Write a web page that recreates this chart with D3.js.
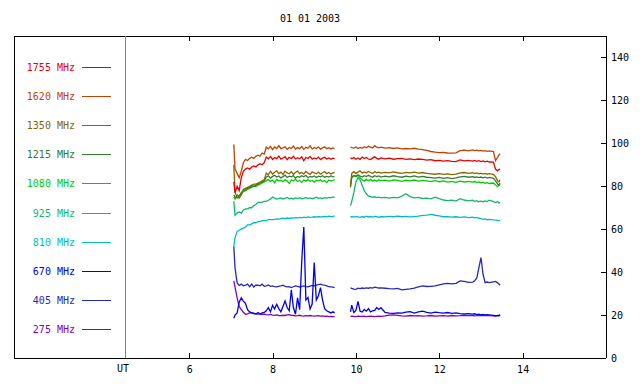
<!DOCTYPE html>
<html>
<head>
<meta charset="utf-8">
<script src="https://cdn.jsdelivr.net/npm/d3@7"></script>
<style>
    body { margin: 0; background: #fff; }
    svg text { font-family: "DejaVu Sans Mono", monospace; font-size: 10px; }
</style>
</head>
<body>
<div id="graph"></div>
<script>
document.addEventListener('DOMContentLoaded', init);

let title = "01 01 2003";

let freqLabels = ["1755 MHz", "1620 MHz", "1350 MHz", "1215 MHz", "1080 MHz",
    "925 MHz", "810 MHz", "670 MHz", "405 MHz", "275 MHz"];

let freqColors = ["#e80000", "#c04400", "#8a6400", "#2f7d2f", "#00cc00",
    "#10b868", "#00bebe", "#0000f0", "#2828b8", "#8200c0"];

let hourTicks = [6, 8, 10, 12, 14];
let valueTicks = [0, 20, 40, 60, 80, 100, 120, 140];

// observation times (UT hours); 9.68 is the data gap
let hours = [7.07, 7.1, 7.15, 7.2, 7.25, 7.3, 7.35, 7.4, 7.45, 7.5, 7.55, 7.6, 7.65, 7.7, 7.75, 7.8,
    7.85, 7.9, 7.95, 8.0, 8.05, 8.1, 8.15, 8.2, 8.25, 8.3, 8.35, 8.4, 8.45, 8.5, 8.55, 8.6, 8.65,
    8.7, 8.75, 8.8, 8.85, 8.9, 8.95, 9.0, 9.05, 9.1, 9.15, 9.2, 9.25, 9.3, 9.35, 9.4, 9.45, 9.49,
    9.68,
    9.87, 9.9, 9.95, 10.0, 10.05, 10.1, 10.15, 10.2, 10.25, 10.3, 10.35, 10.4, 10.45, 10.5, 10.55,
    10.6, 10.7, 10.8, 10.9, 11.0, 11.1, 11.2, 11.3, 11.4, 11.5, 11.6, 11.7, 11.8, 11.9, 12.0, 12.1,
    12.2, 12.3, 12.4, 12.5, 12.6, 12.7, 12.8, 12.85, 12.9, 12.95, 13.0, 13.05, 13.1, 13.15, 13.2,
    13.3, 13.35, 13.4, 13.43, 13.46];

let f1755 = [82, 77, 80, 78, 84, 87, 88, 88.5, 88, 89, 89.5, 89, 90, 90.5, 90, 91,
    93.6, 92.8, 93.9, 92.5, 93.4, 92.9, 94.1, 92.6, 93.2, 93.8, 92.4, 93.5, 92.9, 94, 92.7, 93.3, 92.8,
    93.7, 91.9, 93.4, 92.9, 93.9, 92.6, 93.2, 92.8, 93.6, 92.4, 93.1, 93.5, 92.7, 93.2, 92.6, 93.1, 92.9,
    null,
    93.3, 92.8, 93.4, 92.6, 93.2, 92.5, 93.6, 92.9, 93.4, 92.7, 92.4, 93.1, 93.7, 93, 92.6, 93.2,
    92.8, 93.1, 92.6, 92.9, 93, 92.5, 92.8, 92.4, 92.7, 92.5, 92.2, 92.4, 91.9, 92.1, 91.7, 91.9,
    91.6, 91.5, 92.3, 91.8, 92.1, 91.7, 92, 91.6, 91.9, 91.5, 91.8, 91.4, 91.7, 91.3, 91.2, 88, 87.2, 87.8, 88];

let f1620 = [99.5, 88, 86, 84, 87, 91, 92.5, 92, 93, 93.5, 93, 94, 94.5, 94, 95.5, 95,
    98.2, 97.4, 98.6, 97.1, 98.3, 97.6, 98.9, 97.5, 97.9, 98.4, 97.2, 98.1, 97.6, 98.7, 97.3, 98, 97.5,
    98.5, 97.2, 98.2, 97.7, 98.8, 97.4, 98.1, 97.6, 98.3, 97.3, 97.9, 98.4, 97.5, 98, 97.4, 97.9, 97.6,
    null,
    98.3, 98, 97.8, 98.3, 97.6, 98.1, 97.7, 98.4, 97.9, 98.6, 98.2, 97.8, 98.9, 98.2, 97.9, 98.2,
    97.8, 98, 97.6, 97.9, 97.4, 97.6, 97.4, 97.7, 97.3, 97.1, 96.7, 96.2, 95.9, 95.7, 95.8, 95.5,
    95.4, 95.6, 96.6, 96.8, 96.5, 96.9, 96.6, 96.8, 96.5, 96.7, 96.4, 96.6, 96.3, 96.5, 96.2, 92, 93.5, 94.5, 95.2];

let f1350 = [90, 77, 75, 74.5, 76, 78.5, 79, 79.5, 80, 80.5, 81, 81, 81.5, 82, 82.5, 83,
    86.1, 85.4, 86.9, 85.7, 86.5, 87.2, 85.9, 86.6, 85.5, 87, 86.2, 85.8, 86.8, 85.6, 86.4, 87.1, 85.9,
    86.5, 85.7, 86.9, 86.1, 85.5, 86.7, 86.2, 85.8, 86.6, 85.6, 86.3, 86.9, 85.9, 86.4, 85.7, 86.2, 86.5,
    null,
    79.5, 86, 86.8, 85.9, 86.6, 87.2, 86.1, 86.7, 86.2, 86.9, 86.4, 86, 86.8, 86.3, 86.6, 86.1,
    86.5, 86.2, 86.7, 86.3, 86, 86.5, 86.2, 86.6, 86.1, 86.4, 86, 85.8, 85.6, 85.9, 85.5, 85.8,
    85.4, 85.7, 86.2, 86.4, 86, 86.3, 85.9, 86.2, 85.8, 86.1, 85.7, 86, 85.6, 85.9, 85.5, 84.5, 82.5, 82, 83];

let f1215 = [76, 75, 74.5, 75.5, 77, 78, 78.5, 79, 79.5, 80, 80, 80.5, 81, 81.5, 82, 82.5,
    84.2, 84.9, 83.8, 84.6, 85.1, 84.3, 84.8, 83.9, 84.5, 85.2, 84.1, 84.7, 84.4, 85, 83.8, 84.6, 84.2,
    84.9, 84.4, 85.1, 84, 84.6, 84.3, 84.8, 84.1, 84.7, 84.4, 84.9, 84.2, 84.6, 84.3, 84.8, 84.5, 84.4,
    null,
    80, 84.2, 85, 84.6, 85.3, 84.8, 84.3, 84.9, 84.5, 85.1, 84.6, 84.2, 84.9, 84.5, 84.8, 84.3,
    84.7, 84.4, 84.9, 84.5, 84.2, 84.7, 84.4, 84.8, 84.3, 84.6, 84.2, 84, 83.8, 84.1, 83.7, 84,
    83.6, 83.9, 84.4, 84.6, 84.2, 84.5, 84.1, 84.4, 84, 84.3, 83.9, 84.2, 83.8, 84.1, 83.7, 82.5, 81, 80.6, 81.5];

let f1080 = [75, 74, 76, 75.5, 76.5, 77.5, 78, 78.5, 79, 79.5, 80, 80, 80.5, 81, 81.5, 82,
    82.6, 83.1, 82.2, 82.9, 81.6, 83.2, 82.5, 82.8, 82.1, 83, 82.4, 81.3, 82.9, 82.6, 83.3, 82.2, 82.7,
    81.8, 82.9, 82.4, 83.1, 82.3, 82.7, 81.9, 82.8, 82.5, 83, 82.2, 82.6, 81.7, 82.9, 82.4, 82.8, 83.1,
    null,
    81, 84, 85, 84.5, 85.2, 83.8, 83, 82.4, 83.1, 82.6, 83.2, 82.5, 82.9, 82.3, 83, 82.6,
    82.9, 82.4, 83, 82.7, 82.3, 82.8, 82.5, 82.9, 82.4, 82.7, 82.5, 82.2, 82.6, 82.1, 82.5, 81.9,
    82.3, 81.8, 82.4, 82, 82.3, 81.9, 82.2, 81.7, 82, 81.6, 81.9, 81.4, 81.7, 81.3, 81.5, 80.6, 79.8, 80.4, 80.8];

let f925 = [73, 66.5, 67.5, 68, 67.5, 69, 69.5, 69.5, 70, 70, 71, 71.5, 72.5, 72.5, 72.5, 73,
    73, 73.5, 74, 75, 74.5, 74, 74.3, 74.6, 74.1, 74.4, 74.8, 74.2, 74.5, 74.1, 74.6, 74.3, 74.7,
    74.2, 74.4, 74.8, 74.3, 74.6, 74.2, 74.5, 74.9, 74.4, 74.6, 74.3, 74.7, 74.5, 74.8, 74.6, 75, 74.8,
    null,
    71, 73, 77, 82, 84, 83, 80.5, 78, 76.5, 75.5, 75.2, 74.8, 75.1, 74.7, 74.9, 74.6,
    74.8, 74.5, 74.8, 74.6, 75.4, 76.5, 75.2, 74.6, 74.8, 74.3, 74.5, 74.1, 74.9, 74.2, 73.6, 73.3,
    73.5, 73.1, 74.2, 73.6, 73.2, 73.5, 73, 73.3, 72.8, 73.1, 72.8, 73.2, 72.9, 73.5, 72.8, 72.4, 72.9, 72.2, 72.5];

let f810 = [52, 56, 59, 59.5, 60, 60.5, 61, 62, 62, 62.5, 63, 63, 63.5, 63.5, 64, 64,
    64, 64.5, 64.5, 64.5, 64.6, 64.8, 64.7, 64.9, 65.1, 64.9, 65.2, 65.0, 65.3, 65.2, 65.4, 65.3, 65.5,
    65.3, 65.6, 65.4, 65.7, 65.5, 65.6, 65.8, 65.6, 65.9, 65.7, 65.8, 66, 65.8, 66.1, 65.9, 66, 66.2,
    null,
    65.5, 65.9, 65.6, 66, 65.7, 65.5, 65.9, 65.6, 66.1, 65.7, 65.9, 65.6, 66, 65.8, 65.5, 65.9,
    65.7, 66, 65.8, 66.1, 65.8, 66, 65.7, 65.9, 66.1, 66.4, 66.6, 66.9, 66.5, 66.2, 65.8, 65.9,
    65.6, 65.8, 65.5, 65.7, 65.4, 65.6, 65.3, 65.5, 65.1, 64.9, 64.6, 64.8, 64.4, 64.6, 64.3, 64.2, 64.1, 64, 64.1];

let f670 = [18.5, 20, 21, 26, 28, 26.5, 25.5, 22.5, 21.5, 21, 20.7, 20.5, 21.2, 20.5, 21, 21.2,
    22, 23.5, 21.5, 24.5, 22.8, 25, 23, 21.5, 24, 26.6, 23.5, 22, 31.7, 23.5, 20.4, 28, 22.5,
    45, 61, 27, 28.2, 22.8, 25.1, 44.5, 27, 29, 32.8, 27, 23, 22, 21.5, 21, 21.5, 21,
    null,
    21.5, 24.6, 21.2, 22.2, 26.4, 21.8, 21.4, 22.6, 21.8, 23, 21.5, 22, 22.2, 23.5, 22.6, 23.4,
    21.2, 20.9, 20.8, 21, 20.9, 21.4, 21.6, 20.9, 21.5, 21.8, 21.3, 20.9, 21.4, 21.1, 20.9, 21.2,
    20.8, 21, 20.7, 20.5, 20.7, 20.4, 20.6, 20.2, 20.4, 20.1, 20.3, 20.0, 20.2, 20.1, 19.9, 19.6, 19.8, 19.6, 20.1];

let f405 = [52, 42, 35, 33.8, 34.4, 33.6, 33.9, 34.4, 33.2, 34.4, 33.1, 33.9, 33.9, 33.6, 34.4, 33.4,
    33.6, 34, 33.4, 33.6, 33.2, 33.1, 33.4, 33.6, 33.9, 33.4, 33.1, 33.2, 32.8, 33.2, 33.6, 33.4, 33.1,
    33.4, 33.6, 33.3, 33.1, 33.5, 33.8, 33.6, 33.9, 34.2, 34.4, 34.1, 34, 33.6, 33.2, 33.1, 33, 32.8,
    null,
    32.7, 32.4, 32.1, 32.0, 32.5, 32.3, 32.6, 32.4, 32.7, 32.5, 32.8, 32.6, 33.0, 32.8, 32.6, 32.7,
    32.5, 32.3, 32.2, 32.4, 31.7, 32.0, 32.2, 32.5, 33.1, 33.6, 33.3, 33.4, 33.6, 34.1, 34.5, 34.8,
    34.5, 34.8, 35.9, 35.7, 35.2, 35.3, 36.0, 37.3, 42, 46.8, 39, 35.1, 35.4, 35.1, 35.5, 35.7, 35.0, 34.5, 33.9];

let f275 = [35.9, 33, 28, 24, 22.5, 21.3, 20.4, 20.6, 21, 21.1, 20.9, 20.6, 20.4, 20.5, 20.3, 20.4,
    20.2, 20.1, 20.3, 20, 19.9, 20.1, 19.8, 19.7, 19.9, 19.8, 20.1, 20.2, 19.9, 19.8, 19.6, 19.7, 19.9,
    19.6, 19.5, 19.7, 19.6, 19.8, 19.6, 19.5, 19.6, 19.7, 19.5, 19.6, 19.4, 19.5, 19.3, 19.4, 19.3, 19.3,
    null,
    19.4, 19.5, 19.4, 19.3, 19.5, 19.4, 19.4, 19.5, 19.3, 19.4, 19.5, 19.4, 19.3, 19.4, 19.5, 19.4,
    19.6, 20.0, 20.1, 19.9, 19.6, 19.5, 19.8, 19.6, 19.7, 19.5, 19.6, 19.8, 19.5, 19.6, 19.7, 19.5,
    19.8, 19.6, 19.7, 19.9, 19.7, 19.8, 19.6, 19.7, 19.9, 19.8, 19.7, 19.9, 19.8, 19.7, 19.6, 19.5, 19.7, 19.8, 20.1];

// same order as freqLabels
let series = [f1755, f1620, f1350, f1215, f1080, f925, f810, f670, f405, f275];

let svgWidth = 640;
let svgHeight = 384;

let frameLeft = 14;
let plotLeft = 125;
let plotRight = 606;
let plotTop = 36;
let plotBottom = 358;

let xScale = d3.scaleLinear()
    .domain([4.46, 16])
    .range([plotLeft, plotRight]);

let yScale = d3.scaleLinear()
    .domain([0, 150])
    .range([plotBottom, plotTop]);

function init() {
    drawChart();
}

function drawChart() {
    let svg = d3.select("#graph")
        .append("svg")
        .attr("width", svgWidth)
        .attr("height", svgHeight);

    // title
    svg.append("text")
        .attr("x", 310)
        .attr("y", 22)
        .attr("text-anchor", "middle")
        .attr("fill", "#000")
        .text(title);

    // frame: left, top, bottom
    svg.append("path")
        .attr("d", "M" + plotRight + "," + plotTop + "H" + frameLeft + "V" + plotBottom + "H" + plotRight)
        .attr("fill", "none")
        .attr("stroke", "#000")
        .attr("shape-rendering", "crispEdges");

    // UT divider
    svg.append("line")
        .attr("x1", plotLeft).attr("x2", plotLeft)
        .attr("y1", plotTop).attr("y2", plotBottom)
        .attr("stroke", "#808080")
        .attr("shape-rendering", "crispEdges");

    svg.append("text")
        .attr("x", plotLeft - 2)
        .attr("y", plotBottom + 14)
        .attr("text-anchor", "middle")
        .text("UT");

    // axes
    let xAxis = d3.axisBottom(xScale)
        .tickValues(hourTicks)
        .tickSizeInner(-5)
        .tickSizeOuter(0)
        .tickPadding(8);

    let xAxisTop = d3.axisTop(xScale)
        .tickValues(hourTicks)
        .tickSizeInner(-5)
        .tickSizeOuter(0)
        .tickFormat("");

    let yAxis = d3.axisRight(yScale)
        .tickValues(valueTicks)
        .tickSizeInner(-5)
        .tickSizeOuter(0)
        .tickPadding(5);

    svg.append("g")
        .attr("class", "x axis")
        .attr("transform", "translate(0," + plotBottom + ")")
        .call(xAxis);

    svg.append("g")
        .attr("class", "x axis top")
        .attr("transform", "translate(0," + plotTop + ")")
        .call(xAxisTop);

    svg.append("g")
        .attr("class", "y axis")
        .attr("transform", "translate(" + plotRight + ",0)")
        .call(yAxis);

    svg.selectAll(".axis .domain").remove();
    svg.selectAll(".axis line").attr("shape-rendering", "crispEdges");
    svg.selectAll(".axis text")
        .attr("font-family", "DejaVu Sans Mono, monospace")
        .attr("font-size", "10px")
        .attr("fill", "#000");

    svg.append("line")
        .attr("x1", plotRight).attr("x2", plotRight)
        .attr("y1", plotTop).attr("y2", plotBottom)
        .attr("stroke", "#000")
        .attr("shape-rendering", "crispEdges");

    // data lines, lowest frequency first
    let line = d3.line()
        .defined((d) => d[1] !== null)
        .x((d) => xScale(d[0]))
        .y((d) => yScale(d[1]));

    let order = d3.range(series.length).reverse();

    svg.append("g")
        .selectAll("path")
        .data(order)
        .enter()
        .append("path")
        .attr("d", (i) => line(hours.map((h, k) => [h, series[i][k]])))
        .attr("fill", "none")
        .attr("stroke", (i) => freqColors[i])
        .attr("stroke-width", 1.3);

    // legend
    let legend = svg.append("g")
        .selectAll("g")
        .data(freqLabels)
        .enter()
        .append("g")
        .attr("transform", (d, i) => "translate(0," + Math.round(67 + i * 29.1) + ")");

    legend.append("text")
        .attr("x", 75)
        .attr("y", 0)
        .attr("dy", "0.35em")
        .attr("text-anchor", "end")
        .attr("fill", (d, i) => freqColors[i])
        .text((d) => d);

    legend.append("line")
        .attr("x1", 82).attr("x2", 111)
        .attr("y1", 0.5).attr("y2", 0.5)
        .attr("stroke", (d, i) => freqColors[i]);
}
</script>
</body>
</html>
